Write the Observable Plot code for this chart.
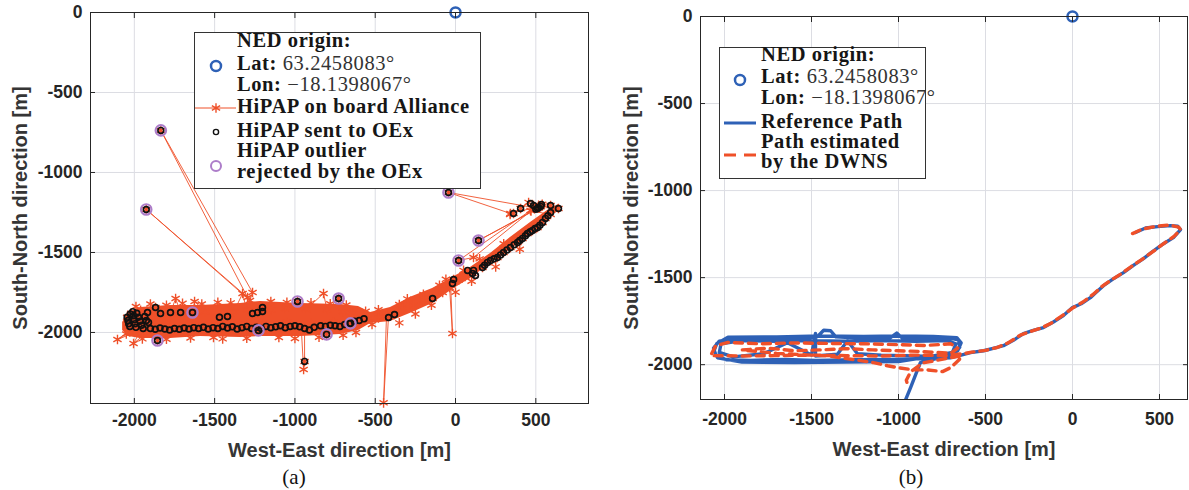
<!DOCTYPE html>
<html><head><meta charset="utf-8">
<script src="https://cdn.jsdelivr.net/npm/d3@7"></script>
<script src="https://cdn.jsdelivr.net/npm/@observablehq/plot@0.6"></script>
<style>
body{margin:0;background:#fff;}
#wrap{position:relative;width:1189px;height:490px;overflow:hidden;background:#fff;}
</style></head>
<body><div id="wrap"></div>
<script>
// ---------- shared ticks ----------
const xTicks = [-2000, -1500, -1000, -500, 0, 500];
const yTicks = [0, -500, -1000, -1500, -2000];
const nedOrigin = [[0, 0]];

// ---------- panel (a): HiPAP ----------
// spread of the dense HiPAP fixes (East, upper North edge, lower North edge)
const spreadE      = [-2073,-2036,-1961,-1775,-1588,-1339,-1214,-965,-716,-604,-529,-405,-268,-143,-19,93,218,342,467,573,641];
const spreadTop    = [-1937,-1875,-1844,-1831,-1831,-1819,-1806,-1819,-1825,-1837,-1875,-1844,-1775,-1725,-1656,-1594,-1506,-1406,-1312,-1237,-1200];
const spreadBottom = [-1987,-2025,-2037,-2037,-2025,-2031,-2025,-2025,-2012,-1987,-1944,-1931,-1875,-1819,-1731,-1662,-1569,-1469,-1375,-1287,-1244];

// HiPAP on board Alliance (ordered fixes, East / North)
const hipapPath = [
 [340,-1262],[361,-1256],[405,-1225],[455,-1187],[486,-1206],[511,-1219],[517,-1205],[540,-1198],[592,-1206],[641,-1225],
 [533,-1210],[342,-1256],[-44,-1125],[486,-1219],[530,-1214],
 [143,-1425],[520,-1222],[467,-1237],[19,-1550],[112,-1531],[470,-1240],
 [592,-1262],[560,-1287],[542,-1312],[511,-1344],[479,-1362],[448,-1381],[417,-1412],[386,-1437],[342,-1469],[299,-1500],[261,-1531],[218,-1550],[199,-1562],[168,-1594],[112,-1612],[106,-1631],[60,-1650],[20,-1672],[-12,-1669],
 [-37,-1719],[-19,-2006],[-30,-1705],
 [-80,-1750],[-143,-1788],[-200,-1800],[-261,-1831],[-330,-1850],[-380,-1888],
 [-417,-1894],[-448,-2440],[-430,-1900],
 [-480,-1910],[-548,-1912],[-610,-1937],
 [-672,-1950],[-720,-1962],[-760,-1958],[-803,-2012],[-840,-1968],[-900,-1975],[-940,-1980],[-940,-2181],[-946,-2231],[-960,-1982],
 [-1020,-1975],[-1080,-1978],[-1140,-1972],[-1227,-1987],[-1300,-1975],[-1380,-1980],[-1460,-1972],[-1507,-2031],[-1540,-1978],[-1620,-1975],[-1700,-1980],[-1780,-1975],[-1856,-2050],[-1900,-1982],[-2005,-2069],[-1960,-1985],[-2105,-2044],[-2010,-1975],[-2040,-1940],[-2045,-1905],[-2020,-1880],[-1961,-1862],
 [-1918,-1875],[-1868,-1844],[-1837,-1881],[-1775,-1875],[-1743,-1788],[-1712,-1875],[-1638,-1875],[-1625,-1806],[-1560,-1870],[-1450,-1880],[-1380,-1870],[-1326,-1756],[-1300,-1860],
 [-1264,-1750],[-1835,-737],[-1295,-1781],[-1926,-1231],[-1280,-1800],
 [-1264,-1881],[-1233,-1875],[-1202,-1844],[-1150,-1860],[-1060,-1850],[-984,-1806],[-930,-1855],[-822,-1756],[-800,-1860],[-728,-1788],[-700,-1870],[-640,-1880],
 [-654,-1943],[-760,-1935],[-900,-1940],[-1050,-1935],[-1200,-1945],[-1350,-1940],[-1500,-1935],[-1650,-1940],[-1800,-1945],[-1912,-1937],[-1961,-1925]
];
// further HiPAP fixes scattered on the edge of the dense cloud
const hipapScatter = [
 [-1990,-1838],[-1900,-1822],[-1800,-1830],[-1700,-1818],[-1580,-1822],[-1480,-1812],[-1400,-1815],[-1150,-1806],[-1050,-1812],[-900,-1815],[-780,-1820],[-680,-1828],
 [-2050,-2010],[-1950,-2040],[-1800,-2042],[-1650,-2035],[-1450,-2040],[-1300,-2036],[-1100,-2032],[-1000,-2038],[-850,-2030],[-700,-2018],[-620,-2000],
 [-560,-1868],[-480,-1858],[-350,-1825],[-300,-1790],[-200,-1762],[-100,-1705],[-60,-1668],[50,-1612],[150,-1540],[300,-1445],
 [-520,-1950],[-350,-1940],[-250,-1885],[-150,-1830],[0,-1748],[100,-1680],[250,-1590],[400,-1480]
];

// HiPAP sent to OEx
const sentToOEx = [
 [-2045,-1905],[-2040,-1925],[-2035,-1945],[-2028,-1962],[-2025,-1885],[-2010,-1870],[-2005,-1895],[-2000,-1920],[-1995,-1945],[-1990,-1968],[-1985,-1880],[-1975,-1905],[-1965,-1930],[-1955,-1955],[-1945,-1975],[-1935,-1900],[-1925,-1925],
 [-1918,-1875],[-1868,-1844],[-1837,-1881],[-1912,-1937],[-1775,-1875],[-1712,-1875],[-1264,-1881],[-1233,-1875],[-1202,-1844],[-1202,-1869],[-1470,-1905],[-1420,-1900],
 [-1900,-1975],[-1870,-1980],[-1840,-1972],[-1810,-1978],[-1780,-1985],[-1750,-1975],[-1720,-1980],[-1690,-1972],[-1660,-1978],[-1630,-1970],[-1600,-1975],[-1570,-1968],[-1540,-1978],[-1510,-1970],[-1480,-1975],[-1450,-1962],[-1420,-1972],[-1390,-1965],[-1360,-1978],[-1330,-1970],[-1300,-1962],[-1270,-1975],[-1240,-1968],[-1210,-1975],[-1180,-1962],[-1150,-1970],[-1120,-1965],[-1090,-1958],[-1060,-1970],[-1030,-1962],[-1000,-1958],[-970,-1965],[-940,-1975],[-910,-1985],[-880,-1968],[-840,-1958],[-810,-1962],[-780,-1955],[-750,-1958],[-720,-1962],[-690,-1950],[-660,-1945],[-630,-1930],[-600,-1925],[-570,-1915],
 [-940,-2181],
 [-417,-1906],[-380,-1888],[-143,-1788],[-19,-1694],[-12,-1669],[75,-1612],[106,-1631],[124,-1644],[112,-1612],[168,-1594],[181,-1580],[199,-1562],[218,-1550],[240,-1540],[261,-1531],[280,-1515],[299,-1500],[320,-1485],[342,-1469],[365,-1452],[386,-1437],[400,-1425],[417,-1412],[435,-1395],[448,-1381],[465,-1370],[479,-1362],[495,-1350],[511,-1344],[525,-1330],[542,-1312],[560,-1287],[575,-1270],[592,-1250],
 [592,-1206],[641,-1225],[511,-1225],[486,-1206],[467,-1194],[517,-1219],[530,-1212],[405,-1225],[361,-1256],[500,-1230],[535,-1200]
];

// HiPAP outliers rejected by the OEx
const outliers = [
 [-1835,-737],[-1926,-1231],[-44,-1125],[143,-1425],[19,-1550],[-1856,-2050],
 [-1638,-1875],[-1227,-1987],[-984,-1806],[-728,-1788],[-803,-2012],[-654,-1943]
];

// ---------- panel (b): reference vs DWNS ----------
const referencePath = [
 [362,-1241],[420,-1215],[489,-1207],[563,-1201],[605,-1205],[621,-1224],[580,-1270],[523,-1305],[460,-1350],[408,-1391],[350,-1430],[293,-1471],[230,-1510],[178,-1546],[130,-1590],[103,-1615],[50,-1650],[0,-1672],[-52,-1718],[-110,-1755],[-167,-1787],[-230,-1805],[-282,-1822],[-340,-1860],[-397,-1891],[-450,-1905],[-511,-1920],[-586,-1931],[-640,-1945],[-700,-1960],
 [-850,-1965],[-1050,-1970],[-1250,-1972],[-1477,-1975],[-1650,-1970],[-1850,-1975],[-1990,-1972],[-2050,-1945],[-2063,-1905],[-2030,-1865],[-1950,-1850],[-1750,-1852],[-1550,-1850],[-1465,-1838],[-1430,-1802],[-1390,-1805],[-1360,-1840],[-1200,-1848],[-1050,-1848],[-1010,-1818],[-980,-1846],[-850,-1850],[-700,-1848],[-655,-1858],[-648,-1900],[-675,-1935],[-740,-1955],
 [-900,-1950],[-1100,-1945],[-1236,-1937],[-1293,-1862],[-1351,-1940],[-1477,-1950],[-1477,-1820],[-1500,-1945],[-1638,-1874],[-1776,-1937],[-1950,-1955],[-2030,-1930],[-2020,-1880],[-1900,-1862],[-1700,-1865],[-1500,-1862],[-1300,-1865],[-1100,-1862],[-900,-1865],[-720,-1862],[-670,-1880],[-690,-1930],[-800,-1950],
 [-1000,-1982],[-1300,-1985],[-1600,-1988],[-1900,-1985],[-2040,-1960],[-2060,-1920],[-2045,-1880],[-1980,-1842],[-1700,-1840],[-1450,-1835],[-1200,-1838],[-1000,-1835],[-800,-1838],[-665,-1845],[-640,-1875],[-660,-1920],[-760,-1960],
 [-874,-1988],[-897,-2046],[-930,-2130],[-966,-2218]
];
const dwnsPath = [
 [345,-1247],[400,-1222],[480,-1205],[560,-1198],[610,-1210],[621,-1224],[585,-1262],[530,-1300],[470,-1345],[400,-1395],[340,-1435],[280,-1478],[220,-1515],[170,-1550],[120,-1595],[60,-1640],[0,-1675],[-50,-1712],[-120,-1760],[-180,-1790],[-250,-1812],[-300,-1830],[-370,-1875],[-430,-1900],[-500,-1918],[-580,-1928],[-626,-1937],
 [-660,-1940],[-720,-1948],[-900,-1945],[-1100,-1950],[-1300,-1948],[-1500,-1945],[-1700,-1948],[-1900,-1950],[-2080,-1948],[-2050,-1890],[-1980,-1872],[-1800,-1880],[-1600,-1875],[-1400,-1878],[-1200,-1880],[-1000,-1885],[-850,-1890],[-700,-1880],[-660,-1905],[-700,-1935],[-850,-1925],[-1000,-1920],[-1150,-1915],[-1300,-1908],[-1450,-1915],[-1600,-1920],[-1750,-1905],[-1900,-1915],[-1700,-1935],[-1400,-1950],[-1144,-1988],[-1063,-2006],[-1006,-2017],[-914,-2030],[-833,-2030],[-747,-2040],[-700,-2017],[-650,-1970],[-638,-1948],[-700,-1960],[-860,-1990],[-930,-2040],[-955,-2090],[-943,-2132]
];

// ---------- texts ----------
const xLabel = "West-East direction [m]";
const yLabel = "South-North direction [m]";
const legendA = ["NED origin:", ["Lat: ", "63.2458083°"], ["Lon: ", "−18.1398067°"], "HiPAP on board Alliance", "HiPAP sent to OEx", "HiPAP outlier", "rejected by the OEx"];
const legendB = ["NED origin:", ["Lat: ", "63.2458083°"], ["Lon: ", "−18.1398067°"], "Reference Path", "Path estimated", "by the DWNS"];

// ---------- build ----------
const orange = "#ef5029", blue = "#2e61b6", purple = "#ad7dc9", gridC = "#dcdde3", ink = "#262626";
const tab = pairs => pairs.map(([e, n]) => ({e, n}));
const spread = spreadE.map((e, i) => ({e, top: spreadTop[i], bot: spreadBottom[i]}));
const fmt = d => String(d);
const svgStyle = {fontFamily: '"Liberation Sans", Arial, Helvetica, sans-serif', fontSize: "17.5px", fontWeight: "bold", color: ink, background: "transparent", overflow: "visible"};

function frameMarks(xPad) {
  return [
    Plot.axisX(xTicks, {anchor: "bottom", tickSize: 0, tickPadding: xPad, tickFormat: fmt, label: null}),
    Plot.axisY(yTicks, {anchor: "left", tickSize: 0, tickPadding: 8, tickFormat: fmt, label: null}),
    Plot.axisX(xTicks, {anchor: "bottom", tickSize: 5, dy: -5, fill: "none", label: null}),
    Plot.axisX(xTicks, {anchor: "top", tickSize: 5, dy: 5, fill: "none", label: null}),
    Plot.axisY(yTicks, {anchor: "left", tickSize: 5, dx: 5, fill: "none", label: null}),
    Plot.axisY(yTicks, {anchor: "right", tickSize: 5, dx: -5, fill: "none", label: null}),
    Plot.frame({stroke: ink, strokeWidth: 1})
  ];
}
function labelMarks(dyX, dxY) {
  return [
    Plot.text([xLabel], {text: d => d, frameAnchor: "bottom", textAnchor: "middle", lineAnchor: "middle", dy: dyX, fontSize: 20, fontWeight: "bold", fill: "#353535"}),
    Plot.text([yLabel], {text: d => d, frameAnchor: "left", textAnchor: "middle", lineAnchor: "middle", dx: dxY, rotate: -90, fontSize: 20, fontWeight: "bold", fill: "#353535"})
  ];
}

const plotA = Plot.plot({
  width: 600, height: 490,
  marginLeft: 90, marginRight: 12, marginTop: 12, marginBottom: 87,
  x: {domain: [-2273, 828], axis: null},
  y: {domain: [-2444, 0], axis: null},
  style: svgStyle,
  marks: [
    Plot.gridX(xTicks, {stroke: gridC, strokeOpacity: 1}),
    Plot.gridY(yTicks, {stroke: gridC, strokeOpacity: 1}),
    Plot.areaY(spread, {x: "e", y1: "top", y2: "bot", fill: orange}),
    Plot.line(tab(hipapPath), {x: "e", y: "n", stroke: orange, strokeWidth: 0.9}),
    Plot.dot(tab(hipapScatter), {x: "e", y: "n", symbol: "asterisk", r: 4.5, stroke: orange, strokeWidth: 1.4}),
    Plot.dot(tab(hipapPath), {x: "e", y: "n", symbol: "asterisk", r: 4.5, stroke: orange, strokeWidth: 1.4}),
    Plot.dot(tab(sentToOEx.concat(outliers)), {x: "e", y: "n", r: 2.9, stroke: "#111", strokeWidth: 1.7, fill: "none"}),
    Plot.dot(tab(outliers), {x: "e", y: "n", r: 5.2, stroke: purple, strokeWidth: 2.2, fill: "none"}),
    Plot.dot(tab(nedOrigin), {x: "e", y: "n", r: 5, stroke: blue, strokeWidth: 2.5, fill: "none"}),
    ...frameMarks(10),
    ...labelMarks(46.6, -70)
  ]
});

const plotB = Plot.plot({
  width: 589, height: 490,
  marginLeft: 100, marginRight: 2, marginTop: 16, marginBottom: 91,
  x: {domain: [-2138, 661], axis: null},
  y: {domain: [-2200, 0], axis: null},
  style: svgStyle,
  marks: [
    Plot.gridX(xTicks, {stroke: gridC, strokeOpacity: 1}),
    Plot.gridY(yTicks, {stroke: gridC, strokeOpacity: 1}),
    Plot.line(tab(referencePath), {x: "e", y: "n", stroke: blue, strokeWidth: 3.4, clip: true}),
    Plot.line(tab(dwnsPath), {x: "e", y: "n", stroke: orange, strokeWidth: 3.4, strokeDasharray: "8,6"}),
    Plot.dot(tab(nedOrigin), {x: "e", y: "n", r: 5, stroke: blue, strokeWidth: 2.5, fill: "none"}),
    ...frameMarks(13),
    ...labelMarks(50, -69)
  ]
});

const wrap = document.getElementById("wrap");
plotA.style.position = "absolute"; plotA.style.left = "0px"; plotA.style.top = "0px";
plotB.style.position = "absolute"; plotB.style.left = "600px"; plotB.style.top = "0px";
wrap.appendChild(plotA); wrap.appendChild(plotB);

// ---------- legends & sub-captions (overlay) ----------
const ov = d3.select(wrap).append("svg").attr("width", 1189).attr("height", 490)
  .style("position", "absolute").style("left", "0px").style("top", "0px");
const serif = '"Liberation Serif", "Times New Roman", serif';

function legend(box, textX, baselines, entries) {
  ov.append("rect").attr("x", box[0] + 0.5).attr("y", box[1] + 0.5).attr("width", box[2]).attr("height", box[3])
    .attr("fill", "#fff").attr("stroke", "#333").attr("stroke-width", 1);
  entries.forEach((en, i) => {
    const t = ov.append("text").attr("x", textX).attr("y", baselines[i])
      .style("font-family", serif).style("font-size", "20.5px").style("letter-spacing", "0.6px").attr("fill", "#161616");
    if (Array.isArray(en)) {
      t.append("tspan").style("font-weight", "bold").text(en[0]);
      t.append("tspan").style("font-weight", "normal").attr("fill", "#333").text(en[1]);
    } else {
      t.style("font-weight", "bold").text(en);
    }
  });
}
legend([194, 32, 286, 156], 237, [47, 70, 91, 113, 137, 157, 178], legendA);
legend([719, 47, 206, 131], 761, [61, 83, 104, 128, 148, 168], legendB);

// legend symbols (a)
ov.append("circle").attr("cx", 216).attr("cy", 66).attr("r", 5).attr("fill", "none").attr("stroke", blue).attr("stroke-width", 2.5);
ov.append("line").attr("x1", 195).attr("x2", 236).attr("y1", 108).attr("y2", 108).attr("stroke", orange).attr("stroke-width", 1);
ov.append("path").attr("d", d3.symbol(d3.symbolAsterisk, 64)()).attr("transform", "translate(216,108)").attr("stroke", orange).attr("stroke-width", 1.4).attr("fill", "none");
ov.append("circle").attr("cx", 216).attr("cy", 132).attr("r", 2.6).attr("fill", "none").attr("stroke", "#111").attr("stroke-width", 1.4);
ov.append("circle").attr("cx", 216).attr("cy", 166).attr("r", 5).attr("fill", "none").attr("stroke", purple).attr("stroke-width", 2);
// legend symbols (b)
ov.append("circle").attr("cx", 740).attr("cy", 80).attr("r", 5).attr("fill", "none").attr("stroke", blue).attr("stroke-width", 2.5);
ov.append("line").attr("x1", 724).attr("x2", 756).attr("y1", 123).attr("y2", 123).attr("stroke", blue).attr("stroke-width", 3);
ov.append("line").attr("x1", 724).attr("x2", 757).attr("y1", 155).attr("y2", 155).attr("stroke", orange).attr("stroke-width", 3).attr("stroke-dasharray", "12,8");

// sub-captions
[["(a)", 294], ["(b)", 911]].forEach(([s, x]) => {
  ov.append("text").attr("x", x).attr("y", 484).attr("text-anchor", "middle")
    .style("font-family", serif).style("font-size", "21px").attr("fill", "#111").text(s);
});
</script>
</body></html>
